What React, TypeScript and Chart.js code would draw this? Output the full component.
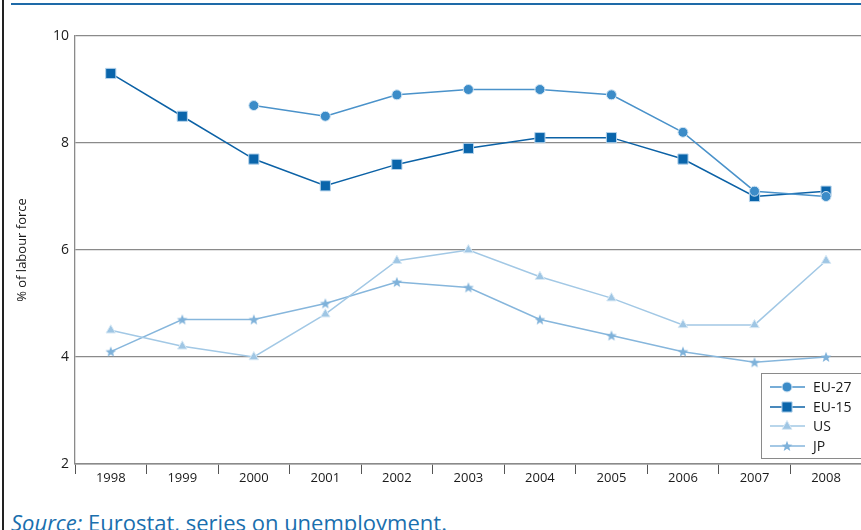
import React, { useEffect, useRef } from "react";
import { Chart, registerables } from "chart.js";

Chart.register(...registerables);

const years = ["1998", "1999", "2000", "2001", "2002", "2003", "2004", "2005", "2006", "2007", "2008"];
const eu27: (number | null)[] = [null, null, 8.7, 8.5, 8.9, 9.0, 9.0, 8.9, 8.2, 7.1, 7.0];
const eu15 = [9.3, 8.5, 7.7, 7.2, 7.6, 7.9, 8.1, 8.1, 7.7, 7.0, 7.1];
const us = [4.5, 4.2, 4.0, 4.8, 5.8, 6.0, 5.5, 5.1, 4.6, 4.6, 5.8];
const jp = [4.1, 4.7, 4.7, 5.0, 5.4, 5.3, 4.7, 4.4, 4.1, 3.9, 4.0];
const yTicks = [2, 4, 6, 8, 10];

const FONT = "'Open Sans', 'Noto Sans', sans-serif";

function makeStar(fill: string): HTMLCanvasElement {
  const c = document.createElement("canvas");
  c.width = 12;
  c.height = 12;
  const ctx = c.getContext("2d")!;
  ctx.beginPath();
  for (let i = 0; i < 10; i++) {
    const r = i % 2 === 0 ? 5.6 : 2.4;
    const a = -Math.PI / 2 + (i * Math.PI) / 5;
    const x = 6 + r * Math.cos(a);
    const y = 6.4 + r * Math.sin(a);
    if (i === 0) ctx.moveTo(x, y);
    else ctx.lineTo(x, y);
  }
  ctx.closePath();
  ctx.fillStyle = fill;
  ctx.fill();
  return c;
}

const legendPlugin = {
  id: "boxLegend",
  afterDraw(chart: any) {
    const ctx = chart.ctx as CanvasRenderingContext2D;
    const x0 = 761.5, y0 = 373.5, x1 = chart.width + 5, y1 = 458.5;
    ctx.save();
    ctx.fillStyle = "#ffffff";
    ctx.fillRect(x0, y0, x1 - x0, y1 - y0);
    ctx.strokeStyle = "#8a8a8a";
    ctx.lineWidth = 1;
    ctx.strokeRect(x0, y0, x1 - x0, y1 - y0);
    const rows = [387, 407, 426, 446];
    chart.data.datasets.forEach((ds: any, i: number) => {
      const y = rows[i];
      ctx.strokeStyle = ds.borderColor;
      ctx.lineWidth = ds.borderWidth;
      ctx.beginPath();
      ctx.moveTo(770, y);
      ctx.lineTo(805, y);
      ctx.stroke();
      const st = ds.pointStyle;
      if (st instanceof HTMLCanvasElement) {
        ctx.drawImage(st, 787 - st.width / 2, y - st.height / 2);
      } else {
        ctx.fillStyle = ds.pointBackgroundColor;
        ctx.strokeStyle = ds.pointBorderColor;
        ctx.lineWidth = 1;
        ctx.beginPath();
        const r = ds.pointRadius;
        if (st === "circle") {
          ctx.arc(787, y, r, 0, Math.PI * 2);
        } else if (st === "rect") {
          const s = Math.SQRT1_2 * r;
          ctx.rect(787 - s, y - s, 2 * s, 2 * s);
        } else if (st === "triangle") {
          ctx.moveTo(787, y - r);
          ctx.lineTo(787 + r * 0.9, y + r * 0.6);
          ctx.lineTo(787 - r * 0.9, y + r * 0.6);
          ctx.closePath();
        }
        ctx.fill();
        ctx.stroke();
      }
      ctx.fillStyle = "#1a1a1a";
      ctx.font = `14px ${FONT}`;
      ctx.textBaseline = "middle";
      ctx.textAlign = "left";
      ctx.fillText(ds.label, 813, y + 1);
    });
    ctx.restore();
  },
};

export default function App() {
  const ref = useRef<HTMLCanvasElement | null>(null);

  useEffect(() => {
    if (!ref.current) return;
    const star = makeStar("#7fb2da");
    const chart = new Chart(ref.current, {
      type: "line",
      data: {
        labels: years,
        datasets: [
          {
            label: "EU-27",
            data: eu27,
            borderColor: "#4a92ca",
            borderWidth: 1.5,
            pointStyle: "circle",
            pointRadius: 5,
            pointBackgroundColor: "#3c8cc8",
            pointBorderColor: "#d4e6f4",
            pointBorderWidth: 1,
            tension: 0,
          },
          {
            label: "EU-15",
            data: eu15,
            borderColor: "#0c62a6",
            borderWidth: 1.5,
            pointStyle: "rect",
            pointRadius: 7.2,
            pointBackgroundColor: "#0a65ab",
            pointBorderColor: "#b6d4ec",
            pointBorderWidth: 1,
            tension: 0,
          },
          {
            label: "US",
            data: us,
            borderColor: "#a2c8e5",
            borderWidth: 1.5,
            pointStyle: "triangle",
            pointRadius: 5.5,
            pointBackgroundColor: "#9fc6e4",
            pointBorderColor: "#d8e9f5",
            pointBorderWidth: 1,
            tension: 0,
          },
          {
            label: "JP",
            data: jp,
            borderColor: "#86b6dc",
            borderWidth: 1.5,
            pointStyle: star as any,
            pointRadius: 5,
            pointBackgroundColor: "#7fb2da",
            pointBorderColor: "#7fb2da",
            tension: 0,
          },
        ],
      },
      options: {
        animation: false,
        responsive: false,
        maintainAspectRatio: false,
        layout: { padding: { left: 0, right: 6, top: 36, bottom: 4 } },
        plugins: {
          legend: { display: false },
          tooltip: { enabled: false },
        },
        scales: {
          x: {
            type: "category",
            offset: true,
            grid: {
              offset: true,
              drawOnChartArea: false,
              drawTicks: true,
              tickLength: 10,
              color: "#555555",
              lineWidth: 1,
            },
            border: { display: true, color: "#8a8a8a", width: 1.5 },
            ticks: {
              padding: -4,
              color: "#1a1a1a",
              font: { family: FONT, size: 13 },
              maxRotation: 0,
              autoSkip: false,
            },
            afterFit: (s: any) => {
              s.height = 22;
            },
          },
          y: {
            min: 2,
            max: 10,
            afterBuildTicks: (s: any) => {
              s.ticks = yTicks.map((v) => ({ value: v }));
            },
            grid: {
              drawTicks: false,
              color: "#8a8a8a",
              lineWidth: 1.3,
            },
            border: { display: true, color: "#8a8a8a", width: 1.3 },
            ticks: {
              padding: 6,
              color: "#1a1a1a",
              font: { family: FONT, size: 14 },
            },
            title: {
              display: true,
              text: "% of labour force",
              color: "#1a1a1a",
              font: { family: FONT, size: 13 },
              padding: { top: 14, bottom: 0 },
            },
            afterFit: (s: any) => {
              s.width = 75;
            },
          },
        },
      },
      plugins: [legendPlugin],
    });
    return () => chart.destroy();
  }, []);

  return (
    <div
      style={{
        position: "fixed",
        left: 0,
        top: 0,
        width: 861,
        height: 530,
        overflow: "hidden",
        background: "#ffffff",
      }}
    >
      <div style={{ position: "absolute", left: 2, top: 0, width: 1.5, height: 530, background: "#222" }} />
      <div style={{ position: "absolute", left: 11, top: 3, width: 850, height: 2, background: "#1e6aa8" }} />
      <canvas
        ref={ref}
        width={870}
        height={490}
        style={{ position: "absolute", left: 0, top: 0, width: 870, height: 490 }}
      />
      <div
        style={{
          position: "absolute",
          left: 11,
          top: 509,
          whiteSpace: "nowrap",
          fontFamily: FONT,
          fontSize: 22,
          lineHeight: "26px",
          color: "#1a6fae",
        }}
      >
        <i>Source:</i> Eurostat, series on unemployment.
      </div>
    </div>
  );
}
